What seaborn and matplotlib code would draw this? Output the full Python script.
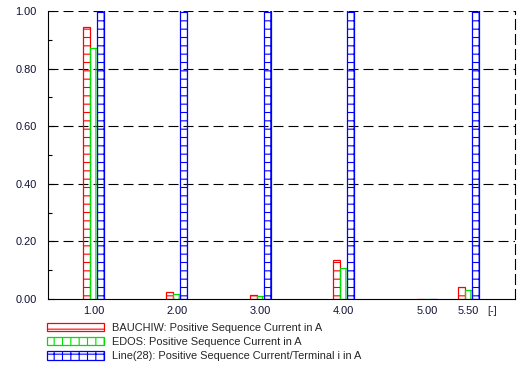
import matplotlib
matplotlib.use("Agg")
import matplotlib.pyplot as plt
from matplotlib.patches import Patch
from matplotlib.ticker import MultipleLocator
import seaborn as sns
import pandas as pd

# ---- data ----
x_values = [1.0, 2.0, 3.0, 4.0, 5.0, 5.5]
x_labels = ["1.00", "2.00", "3.00", "4.00", "5.00", "5.50"]
bauchiw = [0.943, 0.023, 0.013, 0.134, 0.0, 0.041]
edos = [0.873, 0.016, 0.009, 0.107, 0.0, 0.031]
line28 = [1.5, 1.5, 1.5, 1.5, 0.0, 1.5]
series_names = ["BAUCHIW: Positive Sequence Current in A",
                "EDOS: Positive Sequence Current in A",
                "Line(28): Positive Sequence Current/Terminal i in A"]
y_ticks = [0.0, 0.2, 0.4, 0.6, 0.8, 1.0]
y_ticklabels = ["0.00", "0.20", "0.40", "0.60", "0.80", "1.00"]

colors = ["#ff0000", "#00e000", "#0000ff"]
hatches = ["--", "||", "++"]

df = pd.DataFrame({
    "x": x_values * 3,
    "value": bauchiw + edos + line28,
    "series": [series_names[0]] * 6 + [series_names[1]] * 6 + [series_names[2]] * 6,
})

sns.set_theme(style="white")
plt.rcParams["font.family"] = ["Liberation Sans", "DejaVu Sans"]
plt.rcParams["hatch.linewidth"] = 0.8

FS = 7.9
fig = plt.figure(figsize=(5.31, 3.67), dpi=100)
ax = fig.add_axes([48 / 531, 1 - 299 / 367, (515 - 48) / 531, (299 - 11) / 367])

sns.barplot(data=df, x="x", y="value", hue="series", native_scale=True,
            palette=colors, fill=False, width=0.5, linewidth=0.9,
            legend=False, ax=ax, errorbar=None)

for cont, h, c in zip(ax.containers, hatches, colors):
    for bar in cont:
        bar.set_hatch(h)
        bar.set_edgecolor(c)
        bar.set_facecolor("none")

ax.set_xlim(0.455, 6.055)
ax.set_ylim(0, 1.0)
ax.set_xticks(x_values)
ax.set_xticklabels(x_labels)
ax.set_yticks(y_ticks)
ax.set_yticklabels(y_ticklabels)
ax.yaxis.set_minor_locator(MultipleLocator(0.1))
ax.set_xlabel("")
ax.set_ylabel("")

for y in y_ticks[1:]:
    ax.axhline(y, color="black", lw=0.8, ls=(0, (9, 4.5)), zorder=0.5)

ax.spines["top"].set_visible(False)
ax.spines["right"].set_linestyle((0, (9, 4.5)))
for s in ["left", "bottom", "right"]:
    ax.spines[s].set_color("black")
    ax.spines[s].set_linewidth(0.8)

ax.tick_params(axis="y", which="major", direction="in", length=4, width=0.8,
               color="black", left=True, pad=8, labelsize=FS, labelcolor="#111133")
ax.tick_params(axis="y", which="minor", direction="in", length=3, width=0.8,
               color="black", left=True)
ax.tick_params(axis="x", length=0, pad=5, labelsize=FS, labelcolor="#111133")

fig.text(492 / 531, 1 - 311 / 367, "[-]", ha="center", va="center",
         fontsize=FS, color="#111133")

handles = [Patch(facecolor="none", edgecolor=c, hatch=h, linewidth=0.9)
           for c, h in zip(colors, hatches)]
fig.legend(handles, series_names, loc="upper left",
           bbox_to_anchor=(47 / 531, 1 - 323 / 367), frameon=False,
           borderpad=0, borderaxespad=0, handlelength=5.2, handleheight=0.75,
           handletextpad=0.72, labelspacing=0.38, fontsize=FS)

fig.savefig("out.png", dpi=100)
